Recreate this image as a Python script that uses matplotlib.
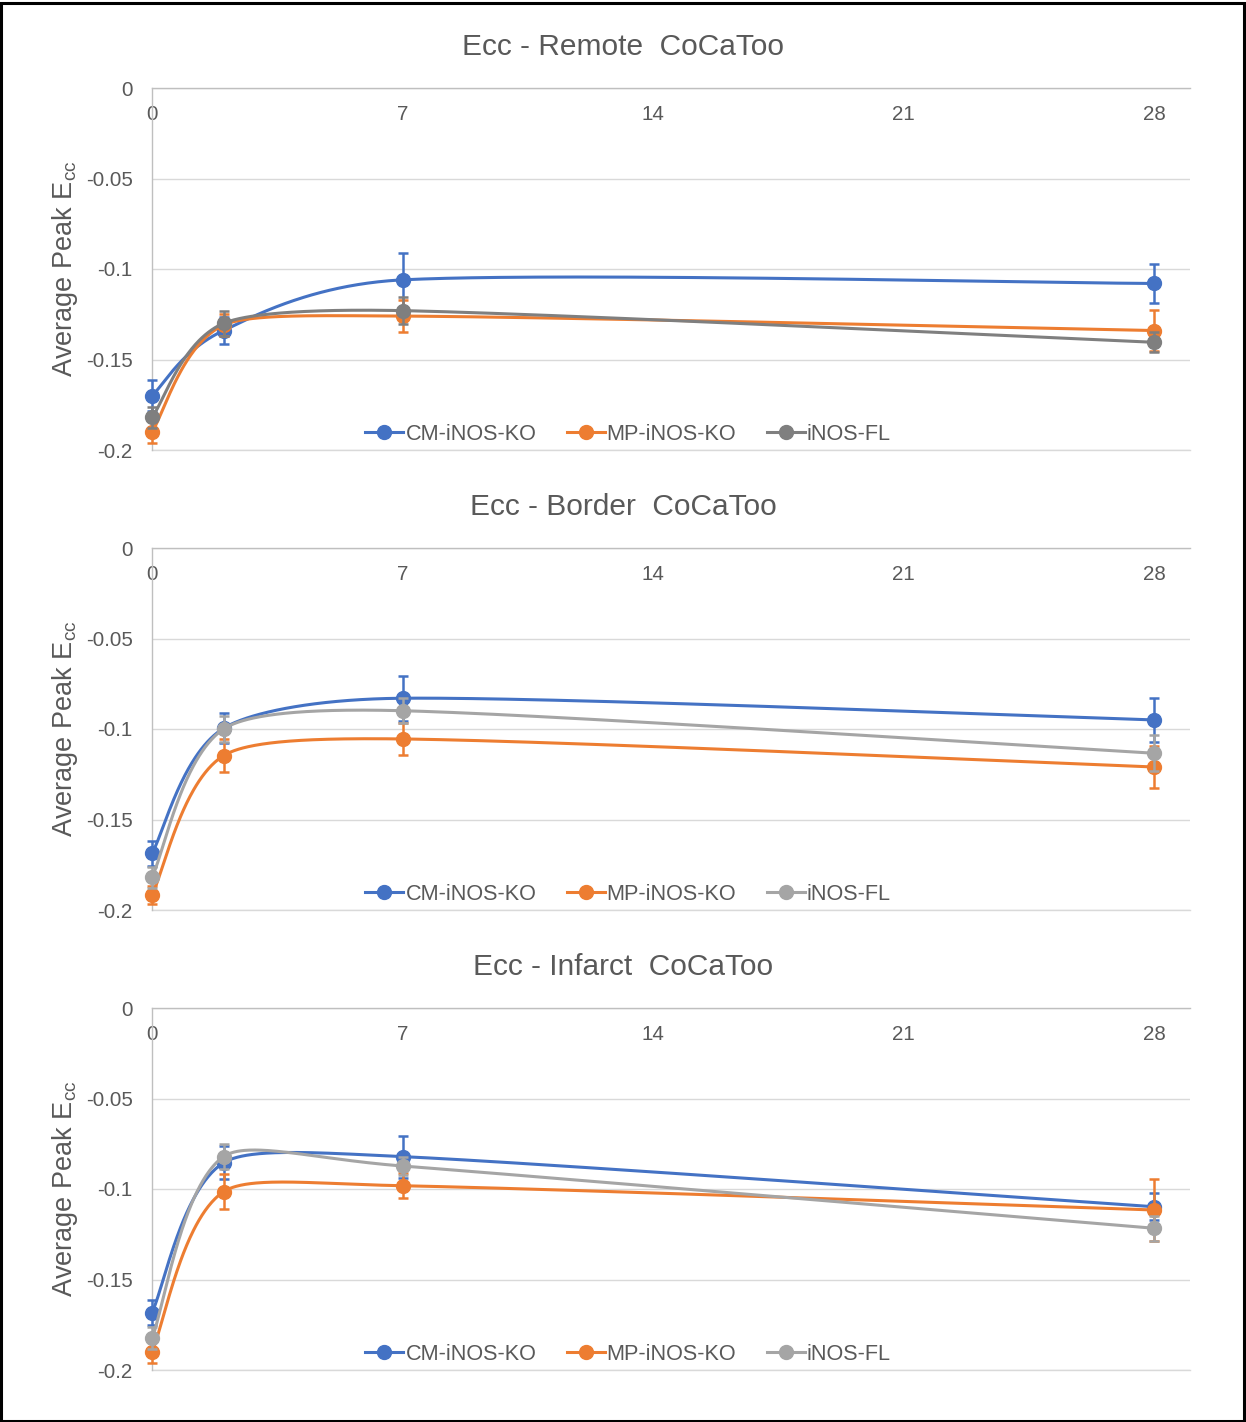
import numpy as np
import matplotlib
matplotlib.use("Agg")
import matplotlib.pyplot as plt
from matplotlib.lines import Line2D
from matplotlib.patches import Rectangle

plt.rcParams['font.family'] = ['Liberation Sans', 'DejaVu Sans']

days = [0, 2, 7, 28]
x_ticks = [0, 7, 14, 21, 28]
y_ticks = [0, -0.05, -0.1, -0.15, -0.2]
y_tick_labels = ['0', '-0.05', '-0.1', '-0.15', '-0.2']
series_names = ['CM-iNOS-KO', 'MP-iNOS-KO', 'iNOS-FL']
titles = ['Ecc - Remote  CoCaToo', 'Ecc - Border  CoCaToo', 'Ecc - Infarct  CoCaToo']

# Remote
remote_cm = [-0.170, -0.134, -0.106, -0.108]
remote_cm_err = [0.0085, 0.0075, 0.015, 0.011]
remote_mp = [-0.190, -0.131, -0.126, -0.134]
remote_mp_err = [0.006, 0.006, 0.009, 0.0115]
remote_fl = [-0.182, -0.130, -0.123, -0.1405]
remote_fl_err = [0.006, 0.007, 0.0076, 0.0055]

# Border
border_cm = [-0.1687, -0.0996, -0.083, -0.095]
border_cm_err = [0.0068, 0.0083, 0.0125, 0.012]
border_mp = [-0.1917, -0.1147, -0.1055, -0.121]
border_mp_err = [0.005, 0.0092, 0.009, 0.0116]
border_fl = [-0.182, -0.100, -0.0899, -0.1134]
border_fl_err = [0.006, 0.007, 0.007, 0.010]

# Infarct
infarct_cm = [-0.1683, -0.0855, -0.0821, -0.1098]
infarct_cm_err = [0.007, 0.009, 0.0116, 0.0074]
infarct_mp = [-0.190, -0.1015, -0.0982, -0.1116]
infarct_mp_err = [0.006, 0.0097, 0.007, 0.017]
infarct_fl = [-0.1825, -0.0821, -0.0873, -0.1217]
infarct_fl_err = [0.006, 0.007, 0.005, 0.007]

panels = [
    [(remote_cm, remote_cm_err), (remote_mp, remote_mp_err), (remote_fl, remote_fl_err)],
    [(border_cm, border_cm_err), (border_mp, border_mp_err), (border_fl, border_fl_err)],
    [(infarct_cm, infarct_cm_err), (infarct_mp, infarct_mp_err), (infarct_fl, infarct_fl_err)],
]
panel_colors = [
    ['#4472C4', '#ED7D31', '#7F7F7F'],
    ['#4472C4', '#ED7D31', '#A5A5A5'],
    ['#4472C4', '#ED7D31', '#A5A5A5'],
]


def excel_smooth(ax, xs, ys, n=100):
    """Excel-like smoothed line: cubic Bezier in display space, tension 1/6,
    control vectors limited to half of the segment length."""
    P = ax.transData.transform(np.column_stack([xs, ys]).astype(float))
    m = len(P)
    out = []
    for i in range(m - 1):
        p0 = P[i - 1] if i > 0 else P[i]
        p1 = P[i]
        p2 = P[i + 1]
        p3 = P[i + 2] if i + 2 < m else P[i + 1]
        d12 = np.linalg.norm(p2 - p1)
        d02 = np.linalg.norm(p2 - p0)
        d13 = np.linalg.norm(p3 - p1)
        f = 1.0 / 6.0
        dm = max(d02, d13)
        if dm / 6.0 > d12 / 2.0 and dm > 0:
            f = (d12 / 2.0) / dm
        c1 = p1 + f * (p2 - p0)
        c2 = p2 - f * (p3 - p1)
        t = np.linspace(0, 1, n)[:, None]
        seg = ((1 - t) ** 3) * p1 + 3 * ((1 - t) ** 2) * t * c1 + 3 * (1 - t) * t ** 2 * c2 + t ** 3 * p2
        out.append(seg if i == 0 else seg[1:])
    seg = ax.transData.inverted().transform(np.vstack(out))
    return seg[:, 0], seg[:, 1]


W, H = 1246, 1422
fig = plt.figure(figsize=(W / 100, H / 100), dpi=100)
fig.patches.append(Rectangle((0.001, 0.001), 0.997, 0.997, transform=fig.transFigure,
                             fill=False, edgecolor='black', linewidth=2.2))

left = 152 / W
width = (1190 - 152) / W
tops = [88, 548, 1008]
ph = 362
text_color = '#595959'

for k, top in enumerate(tops):
    ax = fig.add_axes([left, 1 - (top + ph) / H, width, ph / H])
    ax.set_xlim(0, 29)
    ax.set_ylim(-0.2, 0)
    for s, (vals, errs) in enumerate(panels[k]):
        c = panel_colors[k][s]
        sx, sy = excel_smooth(ax, days, vals)
        ax.plot(sx, sy, color=c, lw=2.2, zorder=3 + s, solid_capstyle='round')
        ax.errorbar(days, vals, yerr=errs, fmt='o', color=c, ecolor=c, elinewidth=1.8,
                    capsize=3.3, capthick=1.8, markersize=10, zorder=3 + s, clip_on=False)
    ax.set_yticks(y_ticks)
    ax.set_yticklabels(y_tick_labels)
    ax.set_xticks(x_ticks)
    ax.grid(axis='y', color='#D9D9D9', lw=1.0)
    ax.axhline(-0.2, color='#D9D9D9', lw=1.0, zorder=0.5, clip_on=False)
    ax.set_axisbelow(True)
    for sp in ['right', 'bottom']:
        ax.spines[sp].set_visible(False)
    ax.spines['left'].set_color('#BFBFBF')
    ax.spines['top'].set_color('#BFBFBF')
    ax.spines['left'].set_linewidth(1.0)
    ax.spines['top'].set_linewidth(1.0)
    ax.xaxis.set_ticks_position('top')
    ax.tick_params(axis='x', length=0, pad=-26, labelsize=14.8, labelcolor=text_color,
                   labeltop=True, labelbottom=False)
    ax.tick_params(axis='y', length=0, pad=14, labelsize=14.8, labelcolor=text_color)
    ax.set_ylabel('Average Peak E$_{\\mathregular{cc}}$', fontsize=19.5, color=text_color)
    ax.yaxis.set_label_coords(-0.069, 0.5)
    ax.text(0.4538, 1 + 41 / ph, titles[k], transform=ax.transAxes, ha='center', va='center',
            fontsize=21.5, color=text_color)
    handles = [Line2D([0], [0], color=panel_colors[k][s], lw=2.2, marker='o', markersize=10)
               for s in range(3)]
    ax.legend(handles, series_names, loc='center', bbox_to_anchor=(0.4586, 16 / ph),
              ncol=3, frameon=False, fontsize=15.6, handlelength=1.75, handletextpad=0.1,
              columnspacing=1.4, labelcolor=text_color)

fig.savefig('out.png', dpi=100)
